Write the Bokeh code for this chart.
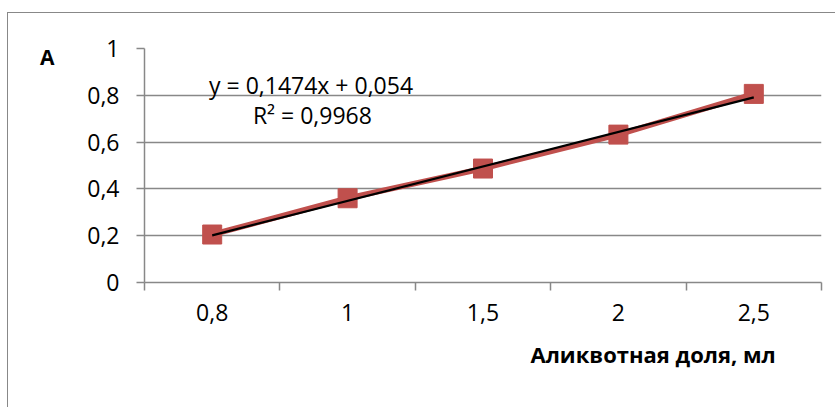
from bokeh.plotting import figure
from bokeh.models import FixedTicker, Label, ColumnDataSource, Range1d, Title, LinearAxis
from bokeh.embed import file_html
from bokeh.resources import INLINE

# ---- data ----
categories = ["0,8", "1", "1,5", "2", "2,5"]
absorbance = [0.205, 0.36, 0.487, 0.632, 0.806]
trend_slope = 0.1474
trend_intercept = 0.054
r_squared = 0.9968
y_ticks = [0, 0.2, 0.4, 0.6, 0.8, 1.0]
y_tick_labels = ["0", "0,2", "0,4", "0,6", "0,8", "1"]
y_axis_title = "A"
x_axis_title = "Аликвотная доля, мл"

FONT = "Open Sans"
GRAY = "#888888"
RED = "#C0504D"
FS = "23px"

positions = list(range(1, len(categories) + 1))

p = figure(width=828, height=395, output_backend="svg", toolbar_location=None,
           x_range=Range1d(0.5, len(categories) + 0.5), y_range=Range1d(0, 1),
           min_border_left=136, min_border_right=15, min_border_top=35, min_border_bottom=126)
p.outline_line_color = None
p.background_fill_color = "white"
p.border_fill_color = "white"
p.styles = {"margin-left": "7px", "margin-top": "12px",
            "border-left": "1.5px solid #888888", "border-top": "1.5px solid #888888"}

# x axis: labels at category centres, tick marks at boundaries
xa = p.xaxis[0]
xa.ticker = FixedTicker(ticks=positions,
                        minor_ticks=[i + 0.5 for i in range(0, len(categories) + 1)])
xa.major_label_overrides = {pos: lab for pos, lab in zip(positions, categories)}
xa.major_tick_line_color = None
xa.minor_tick_line_color = GRAY
xa.minor_tick_line_width = 1.5
xa.minor_tick_out = 8
xa.minor_tick_in = 0
xa.axis_line_color = GRAY
xa.axis_line_width = 1.5
xa.major_label_standoff = 13
xa.major_label_text_font = FONT
xa.major_label_text_font_size = FS
xa.major_label_text_color = "black"

ya = p.yaxis[0]
ya.ticker = FixedTicker(ticks=y_ticks, minor_ticks=[])
ya.major_label_overrides = {t: lab for t, lab in zip(y_ticks, y_tick_labels)}
ya.major_tick_line_color = GRAY
ya.major_tick_line_width = 1.5
ya.major_tick_out = 8
ya.major_tick_in = 0
ya.axis_line_color = GRAY
ya.axis_line_width = 1.5
ya.major_label_standoff = 17
ya.major_label_text_font = FONT
ya.major_label_text_font_size = FS
ya.major_label_text_color = "black"

# "A" title: an extra left axis carrying a single bold label near the top
A_POS = 0.962
ta = LinearAxis(ticker=FixedTicker(ticks=[A_POS], minor_ticks=[]),
                major_label_overrides={A_POS: y_axis_title},
                axis_line_color=None, major_tick_line_color=None, minor_tick_line_color=None,
                major_tick_out=0, major_tick_in=0, major_label_standoff=30,
                major_label_text_font=FONT, major_label_text_font_size="21px",
                major_label_text_font_style="bold", major_label_text_color="black")
p.add_layout(ta, "left")

p.xgrid.grid_line_color = None
p.ygrid.ticker = FixedTicker(ticks=y_ticks)
p.ygrid.grid_line_color = GRAY
p.ygrid.grid_line_width = 1.5

src = ColumnDataSource(dict(x=positions, y=absorbance))
p.line("x", "y", source=src, line_color=RED, line_width=5.5)
p.scatter("x", "y", source=src, marker="square", size=19, fill_color=RED, line_color=RED)

tx = [positions[0], positions[-1]]
ty = [trend_slope * v + trend_intercept for v in tx]
p.line(tx, ty, line_color="black", line_width=2.2)

eq = f"y = {trend_slope}x + {trend_intercept}".replace(".", ",")
r2 = f"R² = {r_squared}".replace(".", ",")
p.add_layout(Label(x=1.73, y=0.842, text=eq, text_align="center", text_baseline="middle",
                   text_font=FONT, text_font_size=FS, text_color="black"))
p.add_layout(Label(x=1.74, y=0.714, text=r2, text_align="center", text_baseline="middle",
                   text_font=FONT, text_font_size=FS, text_color="black"))

p.add_layout(Title(text=x_axis_title, align="left", offset=386, standoff=27,
                   text_font=FONT, text_font_size="22px", text_font_style="bold",
                   text_color="black"), "below")

open("out.html", "w").write(file_html(p, INLINE))
